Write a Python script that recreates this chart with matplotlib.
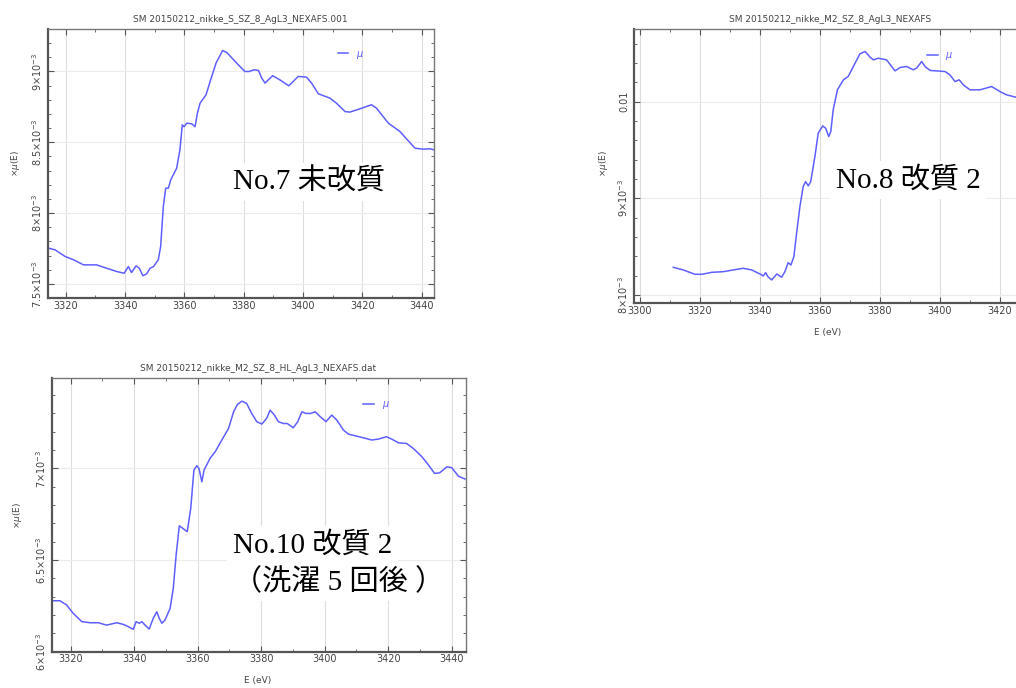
import matplotlib.pyplot as plt
from matplotlib.ticker import MultipleLocator, FixedLocator
import numpy as np

# energy (eV) and mu (in units of 1e-3)

# No.7 (untreated)
e_no7 = [3314.2, 3316.4, 3319.8, 3322.6, 3326.0, 3330.4, 3333.8, 3337.2, 3339.7, 3341.1,
         3342.2, 3343.7, 3344.8, 3346.0, 3347.3, 3348.4, 3349.6, 3351.2, 3352.0, 3352.9,
         3353.7, 3354.6, 3355.4, 3357.4, 3358.5, 3359.3, 3359.9, 3360.8, 3362.5, 3363.6,
         3364.4, 3365.3, 3367.3, 3368.7, 3370.7, 3372.9, 3374.3, 3377.6, 3380.4, 3381.9,
         3383.5, 3385.0, 3386.1, 3387.2, 3388.3, 3389.8, 3392.2, 3395.2, 3396.7, 3398.4,
         3401.2, 3402.9, 3405.2, 3409.1, 3411.3, 3414.2, 3415.8, 3419.2, 3423.1, 3424.8,
         3428.8, 3432.7, 3434.4, 3437.8, 3440.6, 3442.8, 3444.2]
mu_no7 = [7.752, 7.740, 7.693, 7.670, 7.634, 7.634, 7.610, 7.587, 7.575, 7.622,
          7.580, 7.627, 7.610, 7.557, 7.571, 7.610, 7.622, 7.670, 7.764, 8.046,
          8.176, 8.176, 8.235, 8.317, 8.447, 8.623, 8.610, 8.635, 8.630, 8.610,
          8.706, 8.776, 8.835, 8.930, 9.060, 9.148, 9.134, 9.060, 9.000, 9.000,
          9.012, 9.007, 8.953, 8.918, 8.941, 8.970, 8.941, 8.899, 8.929, 8.965,
          8.960, 8.918, 8.842, 8.812, 8.776, 8.717, 8.713, 8.736, 8.765, 8.741,
          8.635, 8.576, 8.536, 8.458, 8.451, 8.454, 8.447]

# No.8 (treated 2)
e_no8 = [3311.1, 3314.4, 3318.3, 3320.6, 3323.9, 3327.8, 3331.1, 3334.4, 3337.2, 3340.0,
         3341.1, 3341.9, 3342.6, 3343.9, 3345.6, 3347.2, 3348.3, 3349.4, 3350.3, 3351.3,
         3352.2, 3353.3, 3354.4, 3355.2, 3356.1, 3356.9, 3358.3, 3359.4, 3360.9, 3361.9,
         3362.9, 3363.6, 3364.4, 3365.8, 3367.8, 3369.4, 3371.7, 3373.3, 3375.0, 3376.7,
         3377.8, 3379.4, 3382.2, 3383.9, 3385.0, 3386.7, 3388.9, 3391.1, 3392.2, 3393.9,
         3395.0, 3396.7, 3398.9, 3401.7, 3403.3, 3405.0, 3406.4, 3407.8, 3410.0, 3413.3,
         3417.2, 3420.0, 3422.2, 3425.3]
mu_no8 = [8.286, 8.259, 8.214, 8.214, 8.234, 8.241, 8.259, 8.276, 8.259, 8.217,
          8.197, 8.231, 8.190, 8.155, 8.217, 8.183, 8.241, 8.334, 8.310, 8.397,
          8.638, 8.914, 9.121, 9.172, 9.128, 9.172, 9.431, 9.672, 9.748, 9.724,
          9.638, 9.690, 9.914, 10.121, 10.224, 10.259, 10.397, 10.493, 10.517, 10.459,
          10.431, 10.448, 10.431, 10.362, 10.317, 10.352, 10.362, 10.328, 10.345, 10.414,
          10.362, 10.321, 10.317, 10.310, 10.276, 10.207, 10.224, 10.172, 10.121, 10.121,
          10.155, 10.103, 10.069, 10.045]

# No.10 (treated 2, after 5 washes)
e_no10 = [3314.2, 3316.6, 3318.7, 3320.8, 3323.5, 3326.1, 3328.7, 3331.3, 3334.5, 3336.6,
          3338.2, 3339.7, 3340.6, 3341.6, 3342.4, 3343.4, 3344.7, 3346.0, 3347.1, 3347.9,
          3348.7, 3349.7, 3351.3, 3352.3, 3353.2, 3354.2, 3355.3, 3356.7, 3357.8, 3358.8,
          3359.7, 3360.4, 3361.3, 3362.0, 3362.8, 3363.9, 3365.5, 3367.6, 3369.7, 3371.3,
          3372.5, 3373.9, 3375.4, 3377.0, 3378.6, 3380.2, 3381.7, 3382.8, 3384.0, 3385.4,
          3387.0, 3388.2, 3390.1, 3391.5, 3392.8, 3394.1, 3395.6, 3397.0, 3398.6, 3400.4,
          3402.2, 3403.8, 3405.9, 3407.5, 3410.1, 3412.2, 3414.8, 3416.9, 3419.4, 3421.1,
          3423.2, 3425.8, 3427.9, 3430.6, 3432.7, 3434.6, 3436.2, 3438.5, 3440.0, 3442.1,
          3444.2]
mu_no10 = [6.278, 6.278, 6.255, 6.209, 6.164, 6.158, 6.158, 6.145, 6.158, 6.149,
           6.136, 6.122, 6.164, 6.155, 6.164, 6.145, 6.124, 6.182, 6.218, 6.182,
           6.155, 6.173, 6.236, 6.345, 6.527, 6.687, 6.673, 6.655, 6.782, 6.991,
           7.015, 7.000, 6.927, 6.991, 7.018, 7.055, 7.091, 7.155, 7.218, 7.309,
           7.349, 7.367, 7.355, 7.300, 7.255, 7.242, 7.273, 7.318, 7.295, 7.255,
           7.245, 7.245, 7.222, 7.255, 7.309, 7.300, 7.300, 7.309, 7.282, 7.255,
           7.291, 7.264, 7.209, 7.187, 7.176, 7.167, 7.155, 7.160, 7.173, 7.160,
           7.140, 7.136, 7.109, 7.064, 7.018, 6.973, 6.976, 7.009, 7.004, 6.958,
           6.942]

# titles, tick labels and annotations
titles = ['SM 20150212_nikke_S_SZ_8_AgL3_NEXAFS.001',
          'SM 20150212_nikke_M2_SZ_8_AgL3_NEXAFS',
          'SM 20150212_nikke_M2_SZ_8_HL_AgL3_NEXAFS.dat']
xticks_no7 = [3320, 3340, 3360, 3380, 3400, 3420, 3440]
xticks_no8 = [3300, 3320, 3340, 3360, 3380, 3400, 3420]
xticks_no10 = [3320, 3340, 3360, 3380, 3400, 3420, 3440]
yticks_no7 = [7.5e-3, 8e-3, 8.5e-3, 9e-3]
ylabels_no7 = [r'7.5$\times$10$^{-3}$', r'8$\times$10$^{-3}$', r'8.5$\times$10$^{-3}$', r'9$\times$10$^{-3}$']
yticks_no8 = [8e-3, 9e-3, 10e-3]
ylabels_no8 = [r'8$\times$10$^{-3}$', r'9$\times$10$^{-3}$', '0.01']
yticks_no10 = [6e-3, 6.5e-3, 7e-3]
ylabels_no10 = [r'6$\times$10$^{-3}$', r'6.5$\times$10$^{-3}$', r'7$\times$10$^{-3}$']

line_color = '#5f5fff'
axis_gray = '#555555'
W, H = 1016, 688

fig = plt.figure(figsize=(W / 100, H / 100), dpi=100)


def px_axes(left, top, right, bottom):
    # axes from pixel box of the screenshot
    return fig.add_axes([left / W, 1 - bottom / H, (right - left) / W, (bottom - top) / H])


def style_panel(ax, xlim, ylim, xticks, yticks, ylabels, ymin_step, leg_pos):
    ax.set_xlim(*xlim)
    ax.set_ylim(*ylim)
    ax.xaxis.set_major_locator(FixedLocator(xticks))
    ax.xaxis.set_minor_locator(MultipleLocator(10))
    ax.set_yticks(yticks)
    ax.set_yticklabels(ylabels)
    ax.yaxis.set_minor_locator(MultipleLocator(ymin_step))
    ax.tick_params(which='both', direction='in', top=True, right=True, colors=axis_gray,
                   labelcolor='#444444', labelsize=7)
    ax.tick_params(which='major', length=4, width=0.8)
    ax.tick_params(which='minor', length=2, width=0.6)
    ax.tick_params(axis='x', pad=2)
    ax.tick_params(axis='y', pad=3)
    for lab in ax.get_yticklabels():
        lab.set_rotation(90)
        lab.set_va('center')
    ax.grid(True, axis='x', color='#dddddd', lw=0.8)
    ax.grid(True, axis='y', color='#ececec', lw=0.8)
    ax.set_axisbelow(True)
    for side in ['top', 'right']:
        ax.spines[side].set_color('#777777')
        ax.spines[side].set_linewidth(1.0)
    for side in ['left', 'bottom']:
        ax.spines[side].set_color(axis_gray)
        ax.spines[side].set_linewidth(1.6)
    ax.legend(loc='center left', bbox_to_anchor=leg_pos, frameon=False, fontsize=7,
              handlelength=1.1, handletextpad=0.8, borderpad=0, borderaxespad=0,
              labelcolor=line_color)


# panel 1: No.7
ax1 = px_axes(48, 29, 434, 298)
ax1.plot(e_no7, np.array(mu_no7) * 1e-3, color=line_color, lw=1.1, label=r'$\mu$')
style_panel(ax1, (3314, 3444.2), (7.40e-3, 9.30e-3), xticks_no7, yticks_no7, ylabels_no7,
            0.1e-3, (0.75, 0.905))

# panel 2: No.8 (cut off at the right edge like the screenshot)
ax2 = px_axes(634, 29, 1075, 303.3)
ax2.plot(e_no8, np.array(mu_no8) * 1e-3, color=line_color, lw=1.1, label=r'$\mu$')
style_panel(ax2, (3298, 3445), (7.914e-3, 10.75e-3), xticks_no8, yticks_no8, ylabels_no8,
            0.2e-3, (0.664, 0.90))

# panel 3: No.10
ax3 = px_axes(52.3, 377.7, 465.7, 651.7)
ax3.plot(e_no10, np.array(mu_no10) * 1e-3, color=line_color, lw=1.1, label=r'$\mu$')
style_panel(ax3, (3314.2, 3444.4), (6.0e-3, 7.495e-3), xticks_no10, yticks_no10, ylabels_no10,
            0.1e-3, (0.752, 0.90))

# titles and axis labels
small = dict(fontsize=6.5, color='#444444', ha='center', va='center')
fig.text(240 / W, 1 - 19 / H, titles[0], **small)
fig.text(830 / W, 1 - 20 / H, titles[1], **small)
fig.text(258 / W, 1 - 369 / H, titles[2], **small)
fig.text(828 / W, 1 - 332 / H, 'E (eV)', **small)
fig.text(258 / W, 1 - 680 / H, 'E (eV)', **small)
fig.text(16 / W, 1 - 163 / H, r'$\times\mu$(E)', rotation=90, **small)
fig.text(604 / W, 1 - 163 / H, r'$\times\mu$(E)', rotation=90, **small)
fig.text(18 / W, 1 - 515 / H, r'$\times\mu$(E)', rotation=90, **small)

# sample annotations
big = dict(fontsize=21, color='black', va='center', ha='left',
           family=['Liberation Serif', 'Noto Sans CJK JP'],
           bbox=dict(facecolor='white', edgecolor='none', pad=4))
fig.text(233 / W, 1 - 182 / H, 'No.7 未改質', **big)
fig.text(836 / W, 1 - 180 / H, 'No.8 改質 2', **big)
fig.text(233 / W, 1 - 545 / H, 'No.10 改質 2', **big)
fig.text(233 / W, 1 - 582 / H, '（洗濯 5 回後 ）', **big)

plt.savefig('out.png', dpi=100)
